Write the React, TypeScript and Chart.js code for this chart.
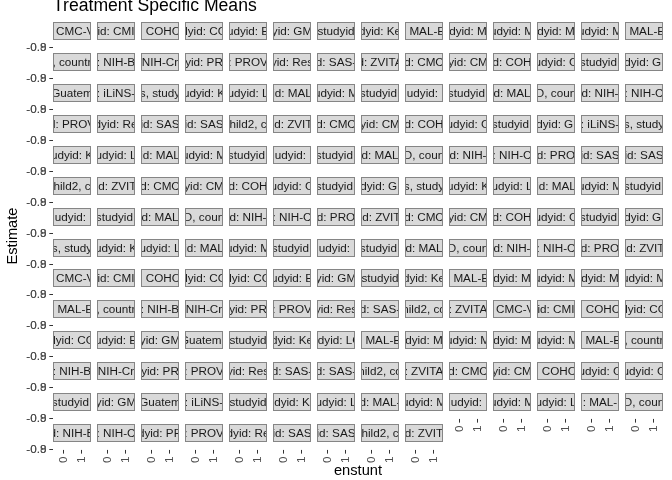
import React, { useEffect, useRef } from "react";
import { Chart, registerables } from "chart.js";

Chart.register(...registerables);

const TITLE = "Treatment Specific Means";
const X_TITLE = "enstunt";
const Y_TITLE = "Estimate";
const N_COLS = 14;
const X_TICK_LABELS = ["0", "1"];
const Y_TICK_LABELS = ["-0.8", "-0.9"];

// facet strip labels (visible, clipped part of each panel label), row by row
const STRIP_LABELS: string[] = [
  ": CMC-V", "id: CMI", ": COHO", "dyid: CO", "udyid: E", "yid: GM", "studyid", "dyid: Ke", ": MAL-E", "dyid: M", "udyid: M", "dyid: M", "udyid: M", ": MAL-E",
  ", countr", ": NIH-B", "NIH-Cr", "yid: PR", ": PROV", "yid: Res", "d: SAS-", "d: ZVITA", "d: CMC", "yid: CM", "d: COH", "udyid: C", "studyid:", "dyid: Gl",
  "Guatem", ": iLiNS-", "s, study", "udyid: K", "udyid: L", "id: MAL", "udyid: M", "studyid:", "udyid: ", "studyid:", "d: MAL", "D, coun", "d: NIH-", ": NIH-C",
  "d: PROV", "dyid: Re", "id: SAS", "id: SAS", "hild2, c", "id: ZVIT", "d: CMC", "yid: CM", "d: COH", "udyid: C", "studyid:", "dyid: Gl", ": iLiNS-", "s, study",
  "udyid: K", "udyid: L", "id: MAL", "udyid: M", "studyid:", "udyid: ", "studyid:", "d: MAL", "D, coun", "d: NIH-", ": NIH-C", "d: PRO", "id: SAS", "id: SAS",
  "hild2, c", "id: ZVIT", "d: CMC", "yid: CM", "d: COH", "udyid: C", "studyid:", "dyid: Gl", "s, study", "udyid: K", "udyid: L", "id: MAL", "udyid: M", "studyid:",
  "udyid: ", "studyid:", "d: MAL", "D, coun", "d: NIH-", ": NIH-C", "d: PRO", "id: ZVIT", "d: CMC", "yid: CM", "d: COH", "udyid: C", "studyid:", "dyid: Gl",
  "s, study", "udyid: K", "udyid: L", "id: MAL", "udyid: M", "studyid:", "udyid: ", "studyid:", "d: MAL", "D, coun", "d: NIH-", ": NIH-C", "d: PRO", "id: ZVIT",
  ": CMC-V", "id: CMI", ": COHO", "dyid: CO", "dyid: CO", "udyid: E", "yid: GM", "studyid", "dyid: Ke", ": MAL-E", "dyid: M", "udyid: M", "dyid: M", "udyid: M",
  ": MAL-E", ", countr", ": NIH-B", "NIH-Cr", "yid: PR", ": PROV", "yid: Res", "d: SAS-", "hild2, co", ": ZVITA", ": CMC-V", "id: CMI", ": COHO", "dyid: CO",
  "dyid: CO", "udyid: E", "yid: GM", "Guatema", "studyid", "dyid: Ke", "udyid: LC", ": MAL-E", "dyid: M", "udyid: M", "dyid: M", "udyid: M", ": MAL-E", ", countr",
  ": NIH-B", "NIH-Cr", "yid: PR", ": PROV", "yid: Res", "d: SAS-", "d: SAS-", "hild2, co", ": ZVITA", "d: CMC", "yid: CM", ": COHO", "udyid: C", "udyid: C",
  "studyid:", "yid: GM", "Guatem", ": iLiNS-", "studyid", "dyid: K", "udyid: L", "d: MAL-", "udyid: M", "udyid: ", "udyid: M", "udyid: L", ": MAL-", "D, coun",
  "d: NIH-B", ": NIH-C", "dyid: PR", ": PROV", "dyid: Re", "id: SAS", "id: SAS", "hild2, c", "d: ZVIT",
];

const FONT = "'Liberation Sans', Arial, sans-serif";

const facetPlugin = {
  id: "facets",
  afterDraw(chart: any) {
    const { ctx, chartArea: a } = chart;
    const n = STRIP_LABELS.length;
    const nRows = Math.ceil(n / N_COLS);
    const hGap = 6;
    const vGap = 5;
    const stripH = 18;
    const tickLen = 3.7;
    const colPitch = (a.right - a.left + hGap) / N_COLS;
    const rowPitch = (a.bottom - a.top + vGap) / nRows;
    const stripW = colPitch - hGap;
    const panelH = rowPitch - vGap - stripH;
    ctx.save();
    for (let i = 0; i < n; i++) {
      const r = Math.floor(i / N_COLS);
      const c = i % N_COLS;
      const x0 = Math.round(a.left + c * colPitch);
      const y0 = Math.round(a.top + r * rowPitch);
      const w = Math.round(stripW);

      // strip
      ctx.fillStyle = "#D9D9D9";
      ctx.fillRect(x0, y0, w, stripH);
      ctx.strokeStyle = "#858585";
      ctx.lineWidth = 1;
      ctx.strokeRect(x0 + 0.5, y0 + 0.5, w - 1, stripH - 1);

      ctx.save();
      ctx.beginPath();
      ctx.rect(x0 + 1, y0 + 1, w - 2, stripH - 2);
      ctx.clip();
      ctx.fillStyle = "#1A1A1A";
      ctx.font = `11.7px ${FONT}`;
      ctx.textAlign = "center";
      ctx.textBaseline = "middle";
      ctx.fillText(STRIP_LABELS[i], x0 + w / 2, y0 + stripH / 2 + 0.5);
      ctx.restore();

      const panelTop = y0 + stripH;
      const panelBottom = panelTop + panelH;

      // y axis ticks on first column
      if (c === 0) {
        const ty = Math.round(panelBottom - 1) + 0.5;
        ctx.strokeStyle = "#333333";
        ctx.beginPath();
        ctx.moveTo(a.left - tickLen, ty);
        ctx.lineTo(a.left, ty);
        ctx.stroke();
        ctx.fillStyle = "#4D4D4D";
        ctx.font = `11.7px ${FONT}`;
        ctx.textAlign = "right";
        ctx.textBaseline = "middle";
        Y_TICK_LABELS.forEach((lab) => ctx.fillText(lab, a.left - tickLen - 2.9, ty));
      }

      // x axis ticks below last panel of each column
      if (i + N_COLS >= n) {
        const k = X_TICK_LABELS.length;
        const range = k - 1 + 1.2;
        X_TICK_LABELS.forEach((lab, j) => {
          const tx = Math.round(x0 + w * ((j + 0.6) / range)) + 0.5;
          ctx.strokeStyle = "#333333";
          ctx.beginPath();
          ctx.moveTo(tx, panelBottom);
          ctx.lineTo(tx, panelBottom + tickLen);
          ctx.stroke();
          ctx.save();
          ctx.translate(tx, panelBottom + tickLen + 2.9);
          ctx.rotate(-Math.PI / 2);
          ctx.fillStyle = "#4D4D4D";
          ctx.font = `11.7px ${FONT}`;
          ctx.textAlign = "right";
          ctx.textBaseline = "middle";
          ctx.fillText(lab, 0, 0);
          ctx.restore();
        });
      }
    }
    ctx.restore();
  },
};

export default function App() {
  const ref = useRef<HTMLCanvasElement | null>(null);
  useEffect(() => {
    document.body.style.margin = "0";
    if (!ref.current) return;
    Chart.defaults.font.family = FONT;
    const chart = new Chart(ref.current, {
      type: "scatter",
      data: { datasets: [] },
      options: {
        animation: false,
        responsive: false,
        devicePixelRatio: 1,
        layout: { padding: { top: 0, right: 9, bottom: 0, left: 0 } },
        plugins: {
          legend: { display: false },
          tooltip: { enabled: false },
          title: {
            display: true,
            text: TITLE,
            align: "start",
            fullSize: false,
            color: "#000000",
            font: { size: 17.6, weight: "normal", family: FONT, lineHeight: 1.2 },
            padding: { top: -4, bottom: 4.9 },
          },
        },
        scales: {
          x: {
            type: "linear",
            position: "bottom",
            grid: { display: false },
            border: { display: false },
            ticks: { display: false },
            title: {
              display: true,
              text: X_TITLE,
              color: "#000000",
              font: { size: 14.67, family: FONT },
              padding: { top: 0, bottom: 0 },
            },
            afterFit: (s: any) => {
              s.height = 30;
            },
          },
          y: {
            type: "linear",
            position: "left",
            grid: { display: false },
            border: { display: false },
            ticks: { display: false },
            title: {
              display: true,
              text: Y_TITLE,
              color: "#000000",
              font: { size: 14.67, family: FONT },
              padding: { top: 4, bottom: 0 },
            },
            afterFit: (s: any) => {
              s.width = 53;
            },
          },
        },
      } as any,
      plugins: [facetPlugin],
    });
    return () => chart.destroy();
  }, []);
  return (
    <div style={{ width: 672, height: 480, background: "#ffffff" }}>
      <canvas ref={ref} width={672} height={480} style={{ display: "block" }} />
    </div>
  );
}
